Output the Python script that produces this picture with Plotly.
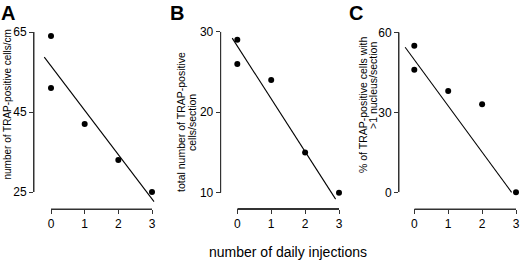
import plotly.graph_objects as go

# ---------------- data ----------------
injections = [0, 0, 1, 2, 3]
trap_per_cm = [64, 51, 42, 33, 25]
trap_per_section = [29, 26, 24, 15, 10]
pct_multinuc = [55, 46, 38, 33, 0]

fitA_x = [-0.2, 3.06]
fitA_y = [58.7, 22.6]
fitB_x = [-0.15, 2.90]
fitB_y = [29.2, 9.2]
fitC_x = [-0.27, 2.87]
fitC_y = [54.4, 0.0]

x_ticks = [0, 1, 2, 3]
yticksA = [25, 45, 65]
yticksB = [10, 20, 30]
yticksC = [0, 30, 60]

panel_letters = ["A", "B", "C"]
x_title = "number of daily injections"

# ---------------- layout helpers ----------------
W, H = 520, 261
FONT = "Liberation Sans, Arial, sans-serif"
AXC = "#333333"


def fx(px):
    return px / W


def fy(py):
    return 1 - py / H


panels = [
    dict(x0=51.0, x3=152.0, yax=34.0, ytop=32.0, ybot=192.0, xax=209.0,
         yvals=yticksA, xs=injections, ys=trap_per_cm, fx_=fitA_x, fy_=fitA_y,
         L=15, R=170, T=20, B=215),
    dict(x0=237.3, x3=339.0, yax=220.7, ytop=31.7, ybot=192.7, xax=208.5,
         yvals=yticksB, xs=injections, ys=trap_per_section, fx_=fitB_x, fy_=fitB_y,
         L=200, R=350, T=20, B=215),
    dict(x0=414.3, x3=516.0, yax=399.0, ytop=32.3, ybot=192.3, xax=209.0,
         yvals=yticksC, xs=injections, ys=pct_multinuc, fx_=fitC_x, fy_=fitC_y,
         L=380, R=520, T=20, B=215),
]

fig = go.Figure()
layout = dict(
    width=W, height=H,
    margin=dict(l=0, r=0, t=0, b=0, autoexpand=False),
    paper_bgcolor="white", plot_bgcolor="rgba(0,0,0,0)",
    showlegend=False,
    font=dict(family=FONT, color="black"),
)


def names(n):
    return ("x" if n == 1 else f"x{n}", "y" if n == 1 else f"y{n}",
            "xaxis" if n == 1 else f"xaxis{n}", "yaxis" if n == 1 else f"yaxis{n}")


common = dict(showgrid=False, zeroline=False, showline=True, linecolor=AXC,
              linewidth=1, ticks="outside", ticklen=4, tickwidth=1,
              tickcolor=AXC, tickfont=dict(family=FONT, size=12, color="black"),
              fixedrange=True, automargin=False)
hidden = dict(visible=False, showgrid=False, zeroline=False, fixedrange=True)

shapes = []
for i, p in enumerate(panels):
    d, vxn, vyn = 3 * i + 1, 3 * i + 2, 3 * i + 3
    dx, dy, dxk, dyk = names(d)
    ax_x, ax_xdummy_y, ax_xk, ax_xdummy_yk = names(vxn)
    ax_ydummy_x, ax_y, ax_ydummy_xk, ax_yk = names(vyn)

    ylo, yhi = p["yvals"][0], p["yvals"][-1]
    sx = (p["x3"] - p["x0"]) / 3.0
    sy = (p["ybot"] - p["ytop"]) / (yhi - ylo)

    # data axes (hidden, wide, same scale as the visible ones)
    layout[dxk] = dict(hidden, domain=[fx(p["L"]), fx(p["R"])],
                       range=[(p["L"] - p["x0"]) / sx, (p["R"] - p["x0"]) / sx],
                       anchor=dy)
    layout[dyk] = dict(hidden, domain=[fy(p["B"]), fy(p["T"])],
                       range=[yhi - (p["B"] - p["ytop"]) / sy,
                              yhi - (p["T"] - p["ytop"]) / sy],
                       anchor=dx)

    # visible x axis, anchored on a hidden dummy y axis placed at its height
    layout[ax_xk] = dict(common, domain=[fx(p["x0"]), fx(p["x3"])], range=[0, 3],
                         tickvals=x_ticks, anchor=ax_xdummy_y, side="bottom")
    layout[ax_xdummy_yk] = dict(hidden, domain=[fy(p["xax"]), fy(p["xax"] - 5)],
                                range=[0, 1], anchor=ax_x)
    # visible y axis, anchored on a hidden dummy x axis placed at its position
    layout[ax_yk] = dict(common, domain=[fy(p["ybot"]), fy(p["ytop"])],
                         range=[ylo, yhi], tickvals=p["yvals"],
                         anchor=ax_ydummy_x, side="left")
    layout[ax_ydummy_xk] = dict(hidden, domain=[fx(p["yax"]), fx(p["yax"] + 5)],
                                range=[0, 1], anchor=ax_y)

    # axis spines drawn in the axes' own coordinates
    shapes.append(dict(type="line", xref=ax_x, yref="paper", x0=0, x1=3,
                       y0=fy(p["xax"]), y1=fy(p["xax"]),
                       line=dict(color=AXC, width=1), layer="above"))
    shapes.append(dict(type="line", xref="paper", yref=ax_y,
                       x0=fx(p["yax"]), x1=fx(p["yax"]), y0=ylo, y1=yhi,
                       line=dict(color=AXC, width=1), layer="above"))

    fig.add_trace(go.Scatter(x=p["fx_"], y=p["fy_"], mode="lines",
                             line=dict(color="black", width=1.1),
                             xaxis=dx, yaxis=dy, hoverinfo="skip"))
    fig.add_trace(go.Scatter(x=p["xs"], y=p["ys"], mode="markers",
                             marker=dict(color="black", size=6),
                             cliponaxis=False, xaxis=dx, yaxis=dy))
    fig.add_trace(go.Scatter(x=[None], y=[None], xaxis=ax_x, yaxis=ax_xdummy_y,
                             hoverinfo="skip"))
    fig.add_trace(go.Scatter(x=[None], y=[None], xaxis=ax_ydummy_x, yaxis=ax_y,
                             hoverinfo="skip"))

ann = []
for letter, px in zip(panel_letters, [-1, 168, 347]):
    ann.append(dict(text=f"<b>{letter}</b>", x=fx(px), y=fy(0), xref="paper",
                    yref="paper", xanchor="left", yanchor="top", showarrow=False,
                    font=dict(family=FONT, size=20, color="black")))

ytitles = [
    ("number of TRAP-positive cells/cm", 6.5, 105, 10),
    ("total number of TRAP-positive", 181, 122, 10.5),
    ("cells/section", 192, 123, 10.5),
    ("% of TRAP-positive cells with", 363, 105, 10.5),
    (">1 nucleus/section", 373, 86, 10.5),
]
for t, px, py, fs in ytitles:
    ann.append(dict(text=t, x=fx(px), y=fy(py), xref="paper", yref="paper",
                    xanchor="center", yanchor="middle", textangle=-90,
                    showarrow=False, font=dict(family=FONT, size=fs, color="black")))

ann.append(dict(text=x_title, x=fx(287.5), y=fy(252), xref="paper", yref="paper",
                xanchor="center", yanchor="middle", showarrow=False,
                font=dict(family=FONT, size=14, color="black")))

layout["annotations"] = ann
layout["shapes"] = shapes
fig.update_layout(**layout)
fig.write_html(
    "out.html",
    config={"displayModeBar": False},
    post_script="document.body.style.margin='0';document.body.style.overflow='hidden';",
)
